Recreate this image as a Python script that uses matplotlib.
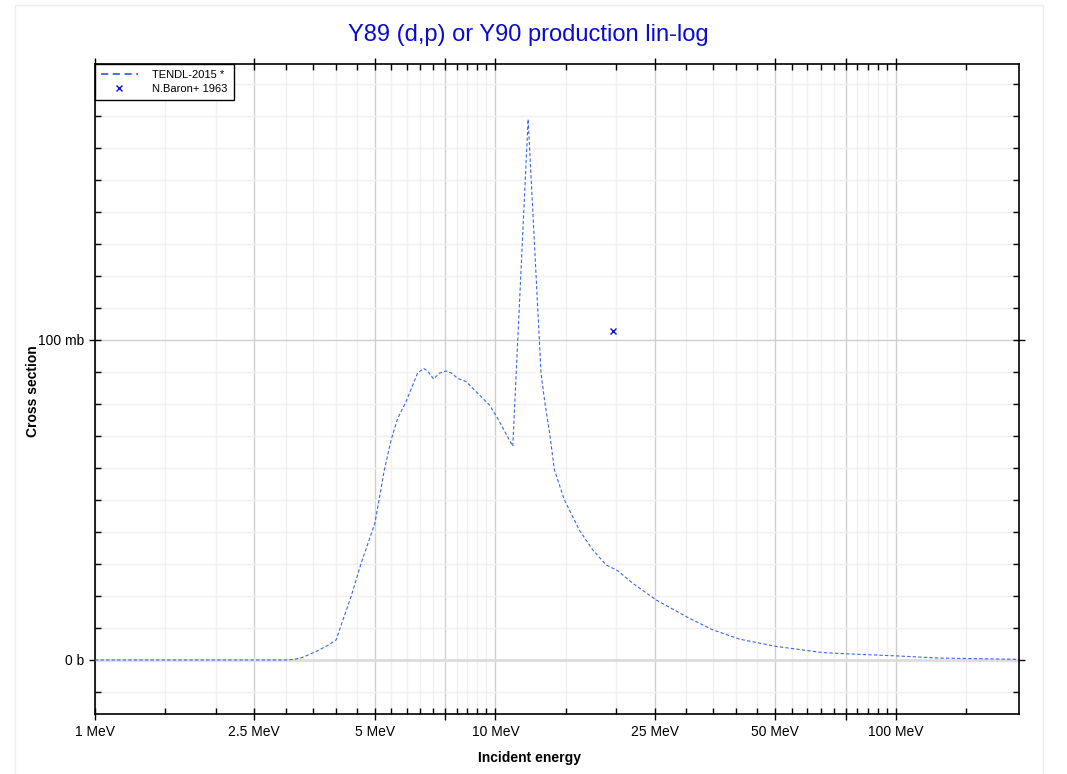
import matplotlib
matplotlib.use('Agg')
import matplotlib.pyplot as plt
from matplotlib.ticker import FixedLocator, NullFormatter
from matplotlib.patches import Rectangle

# TENDL-2015 curve (energy in MeV, cross section in mb)
energy = [1.0, 2.0, 3.0, 3.15, 3.3, 3.56, 3.81, 4.0, 4.36, 4.62, 5.0, 5.13, 5.28,
          5.49, 5.70, 5.98, 6.39, 6.61, 6.76, 7.01, 7.24, 7.53, 7.78, 8.05, 8.45,
          9.12, 9.66, 10.13, 11.05, 12.07, 13.0, 13.26, 13.66, 14.04, 14.87, 16.2,
          17.5, 18.9, 20.2, 22.0, 25.2, 30.0, 34.9, 40.7, 50.4, 65.7, 75.9, 101.0,
          128.0, 200.0]
xs_mb = [0, 0, 0, 0.2, 0.8, 2.6, 4.5, 6.25, 19.8, 30.2, 42.7, 50.5, 59.4,
         68.75, 75.5, 80.7, 89.6, 91.1, 90.4, 87.8, 89.6, 90.3, 89.6, 88.0, 87.0,
         82.8, 79.7, 75.5, 66.8, 169.0, 89.6, 81.3, 70.8, 59.4, 50.0, 40.6,
         34.4, 29.7, 27.9, 24.0, 18.75, 13.5, 9.4, 6.5, 4.2, 2.3, 1.9, 1.25,
         0.6, 0.2]

# N.Baron+ 1963 experimental point
exp_energy = [19.65]
exp_xs = [102.9]

x_major = [1, 2.5, 5, 7.5, 10, 25, 50, 75, 100]
x_labels = ['1 MeV', '2.5 MeV', '5 MeV', '', '10 MeV', '25 MeV', '50 MeV', '', '100 MeV']
x_minor = [1.5, 2, 3, 3.5, 4, 4.5, 5.5, 6, 6.5, 7, 8, 8.5, 9, 9.5, 15, 20,
           30, 35, 40, 45, 55, 60, 65, 70, 80, 85, 90, 95, 150]
y_major = [0, 100]
y_labels = ['0 b', '100 mb']
y_minor = [-10, 10, 20, 30, 40, 50, 60, 70, 80, 90, 110, 120, 130, 140, 150, 160, 170, 180]

narrow = ['Liberation Sans Narrow', 'Liberation Sans', 'DejaVu Sans']
plt.rcParams['font.family'] = ['Liberation Sans', 'DejaVu Sans']

fig = plt.figure(figsize=(10.67, 7.74), dpi=100)
ax = fig.add_axes([0.0890, 0.0775, 0.8660, 0.8398])

# faint outer frame
fig.patches.append(Rectangle((15 / 1067, -0.01), (1043 - 15) / 1067, 1 - 5 / 774 + 0.01,
                             transform=fig.transFigure, fill=False,
                             edgecolor='#eeeeee', linewidth=1))

ax.plot(energy, xs_mb, color='#3a66e8', linewidth=0.8, linestyle=(0, (3, 2)),
        label='TENDL-2015 *', zorder=3)
ax.plot(exp_energy, exp_xs, linestyle='none', marker='x', color='#1010cc',
        markersize=4, markeredgewidth=1, label='N.Baron+ 1963', zorder=4)

ax.set_xscale('log')
ax.set_xlim(1, 203)
ax.set_ylim(-16.9, 186.25)

ax.xaxis.set_major_locator(FixedLocator(x_major))
ax.xaxis.set_minor_locator(FixedLocator(x_minor))
ax.xaxis.set_minor_formatter(NullFormatter())
ax.set_xticks(x_major)
ax.set_xticklabels(x_labels, family=narrow, fontsize=10)
ax.yaxis.set_major_locator(FixedLocator(y_major))
ax.yaxis.set_minor_locator(FixedLocator(y_minor))
ax.set_yticks(y_major)
ax.set_yticklabels(y_labels, family=narrow, fontsize=10)

ax.grid(which='major', color='#cfcfcf', linewidth=1)
ax.grid(which='minor', color='#f0f0f0', linewidth=1)
ax.axhline(0, color='#dddddd', linewidth=2, zorder=1)
ax.set_axisbelow(True)

ax.tick_params(which='major', direction='inout', length=8, width=1, color='black',
               top=True, right=True, pad=4)
ax.tick_params(which='minor', direction='in', length=4, width=1, color='black',
               top=True, right=True)
for s in ax.spines.values():
    s.set_linewidth(1.2)
    s.set_color('black')

leg = ax.legend(loc='upper left', bbox_to_anchor=(0, 1), borderaxespad=0,
                fancybox=False, edgecolor='black', framealpha=1, fontsize=8,
                handlelength=3.3, handletextpad=1.3, borderpad=0.55,
                labelspacing=0.35)
leg.get_frame().set_linewidth(1)
leg.get_lines()[0].set_linestyle((0, (4, 2.5)))
leg.get_lines()[0].set_linewidth(1.3)

fig.text(528 / 1067, 1 - 35 / 774, 'Y89 (d,p) or Y90 production lin-log',
         color='#0a0ad2', fontsize=17, ha='center', va='center')
fig.text(529 / 1067, 1 - 758 / 774, 'Incident energy', fontsize=10,
         fontweight='bold', ha='center', va='center')
fig.text(33 / 1067, 1 - 391 / 774, 'Cross section', fontsize=10,
         fontweight='bold', ha='center', va='center', rotation=90)

fig.savefig('out.png', dpi=100)
